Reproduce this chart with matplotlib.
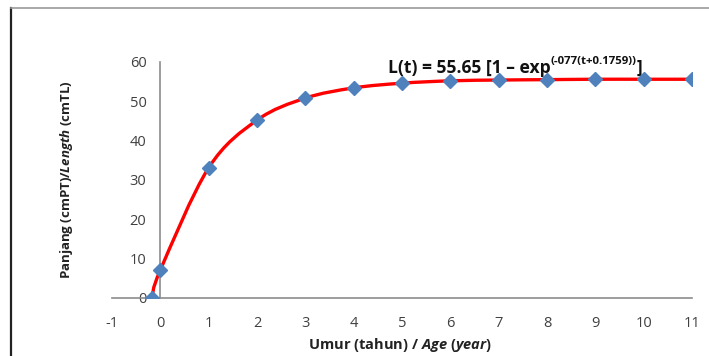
import numpy as np
import matplotlib.pyplot as plt
from matplotlib.path import Path
from matplotlib.patches import PathPatch
from matplotlib.lines import Line2D

plt.rcParams['font.family'] = 'Open Sans'
plt.rcParams['axes.unicode_minus'] = False
plt.rcParams['mathtext.fontset'] = 'custom'
plt.rcParams['mathtext.rm'] = 'Open Sans:bold'
plt.rcParams['mathtext.bf'] = 'Open Sans:bold'
plt.rcParams['mathtext.it'] = 'Open Sans:italic:bold'

# umur (tahun) dan panjang (cm)
age = [-0.1759, 0, 1, 2, 3, 4, 5, 6, 7, 8, 9, 10, 11]
length = [0, 7.1, 33.1, 45.2, 50.8, 53.4, 54.6, 55.2, 55.4, 55.5, 55.6, 55.6, 55.6]
xticks = list(range(-1, 12))
yticks = [0, 10, 20, 30, 40, 50, 60]
eq_main = 'L(t) = 55.65 [1 \u2013 exp'
eq_sup = '(-077(t+0.1759))'
eq_end = ']'

fig = plt.figure(figsize=(7.09, 3.56), dpi=100)
ax = fig.add_axes([0.158, 0.163, 0.818, 0.663])

# garis halus (spline Catmull-Rom seperti Excel)
pts = np.column_stack([age, length])
verts = [pts[0]]
codes = [Path.MOVETO]
n = len(pts)
for i in range(n - 1):
    p0 = pts[i - 1] if i > 0 else pts[i]
    p1 = pts[i]
    p2 = pts[i + 1]
    p3 = pts[i + 2] if i + 2 < n else pts[i + 1]
    c1 = p1 + (p2 - p0) / 6
    c2 = p2 - (p3 - p1) / 6
    verts += [c1, c2, p2]
    codes += [Path.CURVE4] * 3
ax.add_patch(PathPatch(Path(verts, codes), facecolor='none', edgecolor='#FF0000',
                       lw=2.4, zorder=3, capstyle='round'))
ax.plot(age, length, ls='none', marker='D', ms=7.5, color='#4F81BD', zorder=4)

ax.set_xlim(-1, 11)
ax.set_ylim(0, 60)
ax.set_xticks(xticks)
ax.set_yticks(yticks)
for s in ['top', 'right']:
    ax.spines[s].set_visible(False)
ax.spines['left'].set_position(('data', 0))
ax.spines['bottom'].set_position(('data', 0))
for s in ['left', 'bottom']:
    ax.spines[s].set_color('#8c8c8c')
    ax.spines[s].set_linewidth(1.2)
ax.tick_params(axis='both', length=0, labelsize=10.5, labelcolor='#404040')
ax.tick_params(axis='x', pad=13)
ax.tick_params(axis='y', pad=10)

ax.set_xlabel(r'Umur (tahun) / $\mathit{Age}$ ($\mathit{year}$)', fontsize=10.5,
              fontweight='bold', color='#222222')
ax.xaxis.set_label_coords(0.497, -0.16)
ax.set_ylabel(r'Panjang (cmPT)/$\mathit{Length}$ (cmTL)', fontsize=9.5,
              fontweight='bold', color='#222222')
ax.yaxis.set_label_coords(-0.064, 0.5)

# persamaan von Bertalanffy
t1 = ax.text(4.71, 57.2, eq_main, fontsize=12.6, fontweight='bold', color='#111111',
             ha='left', va='baseline')
t2 = ax.annotate(eq_sup, xy=(1, 0.55), xycoords=t1, fontsize=8.2, fontweight='bold',
                 color='#111111', ha='left', va='bottom')
ax.annotate(eq_end, xy=(1, 0), xycoords=(t2, t1), fontsize=12.6, fontweight='bold',
            color='#111111', ha='left', va='bottom')

# bingkai
fig.add_artist(Line2D([0.0155, 0.0155], [0, 0.978], color='#222222', lw=1.6))
fig.add_artist(Line2D([0.0155, 1], [0.978, 0.978], color='#999999', lw=1.2))

fig.savefig('out.png', dpi=100)
